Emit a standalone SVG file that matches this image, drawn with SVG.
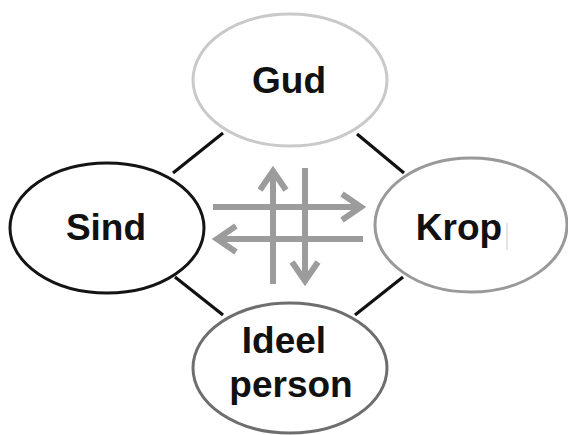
<svg xmlns="http://www.w3.org/2000/svg" width="568" height="435" viewBox="0 0 568 435">
<defs>
<style>
.lbl{font-family:"Liberation Sans",Arial,sans-serif;font-weight:bold;font-size:37px;fill:#111;text-anchor:middle}
.node{fill:#fff;stroke-width:3}
.link{stroke:#111;stroke-width:3.2;fill:none}
.arr{stroke:#9c9c9c;stroke-width:6;fill:none;stroke-linecap:butt;stroke-linejoin:miter}
</style>
</defs>
<rect width="568" height="435" fill="#fff"/>
<g id="connectors">
<line class="link" x1="223" y1="133" x2="173" y2="173"/>
<line class="link" x1="357" y1="134" x2="404" y2="173"/>
<line class="link" x1="175" y1="277" x2="223" y2="315"/>
<line class="link" x1="403" y1="277" x2="355" y2="315"/>
<g id="arrows">
<path class="arr" d="M213 207 H361 M342 194 L361 207 L342 220"/>
<path class="arr" d="M363 239 H217 M236 226 L217 239 L236 252"/>
<path class="arr" d="M273 284 V171 M260 190 L273 171 L286 190"/>
<path class="arr" d="M305 168 V281 M292 262 L305 281 L318 262"/>
</g>
</g>
<g id="gud">
<ellipse class="node" cx="290" cy="80" rx="97" ry="66" stroke="#c9c9c9"/>
<text class="lbl" x="289" y="93">Gud</text>
</g>
<g id="sind">
<ellipse class="node" cx="107" cy="228" rx="97" ry="65" stroke="#141414"/>
<text class="lbl" x="106" y="240">Sind</text>
</g>
<g id="krop">
<ellipse class="node" cx="471" cy="225" rx="96" ry="67" stroke="#999"/>
<text class="lbl" x="459" y="240">Krop</text>
<line x1="507" y1="223" x2="507" y2="250" stroke="#c8c8c8" stroke-width="1"/>
</g>
<g id="ideel">
<ellipse class="node" cx="290" cy="368" rx="97" ry="65" stroke="#6e6e6e"/>
<text class="lbl" x="284" y="353">Ideel</text>
<text class="lbl" x="291" y="397">person</text>
</g>
</svg>
